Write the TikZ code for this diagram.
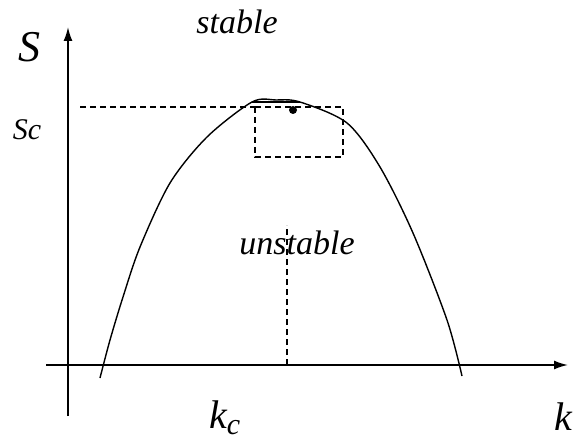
\documentclass[tikz,border=0pt]{standalone}
\usepackage{fontspec}
\setmainfont{Liberation Serif}
\usepackage{tikz}
\usetikzlibrary{arrows.meta,positioning,calc}

\begin{document}
\begin{tikzpicture}[x=1pt, y=-1pt, >={Latex[length=14pt,width=9pt]},
  axis/.style={line width=1.7pt},
  curve/.style={line width=1.4pt},
  guide/.style={line width=1.5pt, dash pattern=on 6pt off 4pt},
  lbl/.style={inner sep=0pt, font=\fontsize{34}{36}\selectfont\itshape}]
  \useasboundingbox (0,0) rectangle (574,444);
  % axes
  \coordinate (kstart) at (46,365);
  \coordinate (kend) at (568,365);
  \coordinate (sstart) at (68,416);
  \coordinate (send) at (68,27);
  \draw[axis,->] (kstart) -- (kend);
  \draw[axis,->] (sstart) -- (send);
  % neutral curve
  \draw[curve] plot[smooth] coordinates {(100,378) (110,340) (123,297) (140,247)
    (170,183) (207,137) (252,102) (276,100) (300,102) (347,123) (380,167)
    (413,233) (447,320) (462,376)};
  \coordinate (topl) at (252,102);
  \coordinate (topr) at (300,102);
  \draw[line width=2.6pt] (topl) -- (topr);
  \fill (293,110) circle (4pt);
  % guides
  \coordinate (scdash) at (80,107);
  \coordinate (boxa) at (255,107);
  \coordinate (boxb) at (343,157);
  \draw[guide] (scdash) -- (boxa);
  \draw[guide] (boxa) rectangle (boxb);
  \coordinate (kcfoot) at (287,365);
  \coordinate (kctop) at (287,225);
  \draw[guide] (kcfoot) -- (kctop);
  % labels
  \node[lbl, font=\fontsize{44}{46}\selectfont\itshape] (slabel) at (29,47) {S};
  \node[lbl, font=\fontsize{30}{32}\selectfont\itshape] (sclabel) at (27,130) {Sc};
  \node[lbl] (stable) at (237,22) {stable};
  \node[lbl] (unstable) at (297,243) {unstable};
  \node[lbl, font=\fontsize{40}{42}\selectfont\itshape, anchor=base west] (kclabel) at (209,428) {k\raisebox{-6pt}{\fontsize{30}{32}\selectfont c}};
  \node[lbl, font=\fontsize{40}{42}\selectfont\itshape, anchor=base west] (klabel) at (554,430) {k};
\end{tikzpicture}
\end{document}
